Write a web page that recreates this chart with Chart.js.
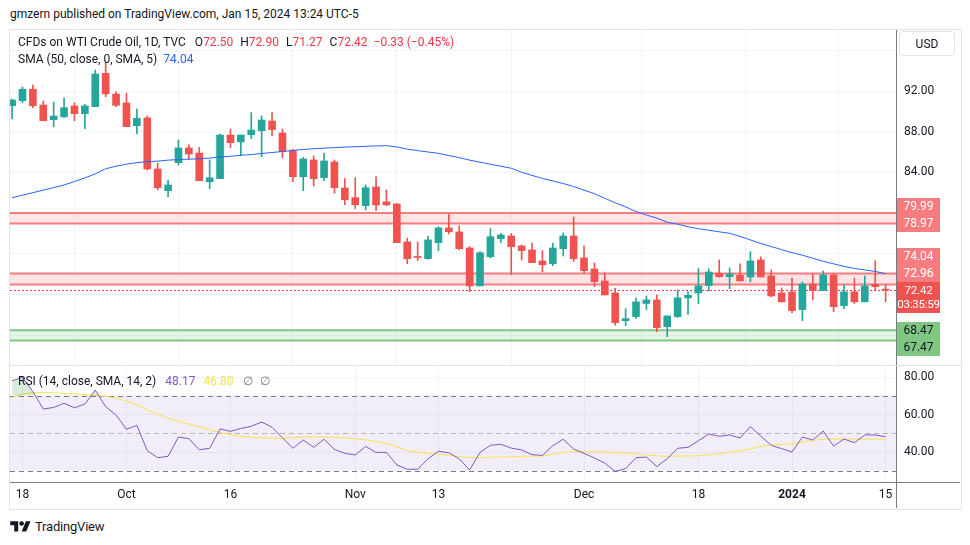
<!DOCTYPE html>
<html>
<head>
<meta charset="utf-8">
<title>CFDs on WTI Crude Oil, 1D</title>
<script src="https://cdn.jsdelivr.net/npm/chart.js@4.4.1/dist/chart.umd.min.js"></script>
<style>
  html, body { margin: 0; padding: 0; background: #fff; }
  body { width: 970px; height: 545px; position: relative; overflow: hidden; font-family: Roboto, "Noto Sans", sans-serif; color: #131722; }
  .abs { position: absolute; white-space: nowrap; }
  #frame { left: 9px; top: 29px; width: 951px; height: 479px; border: 1px solid #e0e3eb; }
  #sep { left: 10px; top: 365px; width: 951px; height: 1px; background: #e0e3eb; }
  canvas { position: absolute; left: 10px; }
  #priceCanvas { top: 30px; }
  #rsiCanvas { top: 366px; }
  #header { left: 10px; top: 6px; font-size: 12px; line-height: 16px; }
  .legend { left: 18px; font-size: 12px; line-height: 16px; color: #131722; }
  .legend .g9 { margin-left: 9px; }
  .legend .g7 { margin-left: 7px; }
  .legend .g6 { margin-left: 6px; }
  .legend .g8 { margin-left: 8px; }
  .red { color: #f23645; }
  #usd { left: 899px; top: 31px; width: 56px; height: 25px; border: 1px solid #e0e3eb; border-radius: 4px; font-size: 12px; line-height: 25px; text-align: center; box-sizing: border-box; }
  .tag { position: absolute; left: 897px; width: 43px; height: 17px; line-height: 17px; font-size: 12px; text-align: center; color: #fff; }
  .tag.zone { background: #f77c80; }
  .tag.green { background: #81c784; color: #131722; }
  .tag.last { background: #ef5350; height: 31px; line-height: 14px; padding-top: 1px; box-sizing: border-box; font-size: 11.5px; letter-spacing: -0.2px; }
  #brand { left: 10px; top: 518px; font-size: 13px; line-height: 18px; display: flex; align-items: center; gap: 4px; letter-spacing: -0.2px; }
</style>
</head>
<body>
<div id="header" class="abs">gmzern published on TradingView.com, Jan 15, 2024 13:24 UTC-5</div>
<div id="frame" class="abs"></div>
<canvas id="priceCanvas" width="950" height="335"></canvas>
<div id="sep" class="abs"></div>
<canvas id="rsiCanvas" width="950" height="142"></canvas>
<div id="legend1" class="abs legend" style="top:34px"></div>
<div id="legend2" class="abs legend" style="top:51px"></div>
<div id="legend3" class="abs legend" style="top:373px"></div>
<div id="usd" class="abs">USD</div>
<div id="tags"></div>
<div id="brand" class="abs">
  <svg width="21" height="16" viewBox="0 0 36 28"><path d="M14 22H7V11H0V4h14v18zM28 22h-8l7.5-18h8L28 22z" fill="#131722"/><circle cx="20" cy="8" r="4" fill="#131722"/></svg>
  <span>TradingView</span>
</div>
<script>
// daily bars, Sep 15 2023 .. Jan 15 2024 (index 0..84)
const opens = [90.55, 91.05, 92.17, 90.62, 89.18, 89.47, 90.53, 89.77, 90.46, 93.74,
  91.70, 90.82, 88.59, 89.35, 84.33, 82.20, 84.95, 86.40, 85.90, 83.08,
  83.38, 87.67, 87.00, 87.70, 88.10, 89.05, 87.87, 86.13, 83.57, 85.22,
  83.47, 85.02, 82.46, 81.51, 80.72, 82.56, 81.09, 80.89, 77.15, 75.70,
  75.51, 77.08, 78.53, 78.14, 76.56, 72.83, 75.70, 77.48, 77.74, 76.76,
  76.37, 75.28, 75.02, 76.49, 77.74, 75.58, 74.50, 73.32, 72.14, 69.41,
  69.81, 71.10, 71.45, 68.82, 69.81, 71.65, 72.14, 72.86, 74.07, 73.74,
  73.87, 73.71, 75.38, 73.81, 72.14, 72.24, 70.50, 73.02, 72.37, 73.91,
  70.89, 72.24, 71.26, 72.99, 72.50];
const highs = [91.21, 92.39, 92.59, 91.02, 90.92, 91.31, 90.85, 90.69, 94.06, 94.78,
  91.93, 91.80, 90.23, 89.54, 84.89, 83.25, 87.18, 86.72, 86.46, 85.22,
  87.77, 88.26, 87.67, 89.87, 89.54, 89.87, 88.26, 86.27, 85.48, 85.61,
  85.87, 85.22, 83.38, 83.47, 82.76, 83.57, 82.27, 80.96, 77.52, 77.15,
  77.74, 78.66, 79.88, 78.73, 76.69, 76.20, 78.46, 78.00, 77.97, 76.86,
  77.05, 76.30, 77.05, 78.04, 79.61, 76.76, 75.09, 74.10, 72.60, 70.59,
  71.65, 71.84, 71.94, 69.88, 72.43, 72.27, 74.53, 74.50, 75.38, 74.60,
  75.00, 76.20, 75.68, 74.40, 72.63, 73.61, 73.22, 74.04, 74.30, 74.04,
  72.92, 73.61, 73.81, 75.31, 72.90];
const lows = [89.25, 90.85, 90.36, 89.08, 88.49, 89.37, 89.08, 88.30, 90.46, 91.44,
  90.46, 88.49, 87.80, 84.23, 82.27, 81.60, 84.72, 85.22, 83.18, 82.40,
  83.38, 86.43, 85.64, 87.31, 85.54, 87.58, 85.44, 83.08, 82.20, 82.66,
  83.18, 81.94, 80.82, 80.43, 80.30, 80.23, 80.72, 77.08, 75.02, 75.33,
  75.45, 76.30, 77.94, 76.39, 72.27, 72.83, 75.58, 77.08, 73.94, 75.38,
  75.12, 74.23, 74.82, 75.77, 75.22, 74.07, 72.76, 71.94, 68.96, 68.92,
  69.61, 70.50, 68.33, 67.84, 69.71, 70.02, 71.06, 72.34, 73.68, 72.56,
  73.32, 73.22, 73.71, 71.74, 71.26, 70.20, 69.41, 71.45, 72.37, 70.30,
  70.60, 71.09, 71.26, 72.43, 71.27];
const closes = [91.11, 92.17, 90.55, 89.08, 89.54, 90.36, 89.77, 90.53, 93.67, 91.73,
  90.59, 88.49, 89.32, 84.33, 82.49, 82.76, 86.40, 85.80, 83.18, 83.47,
  87.67, 86.92, 87.67, 88.16, 89.15, 88.20, 86.03, 83.57, 85.31, 83.38,
  85.12, 82.49, 81.31, 80.82, 82.49, 80.79, 80.79, 77.08, 75.51, 75.63,
  77.35, 78.53, 78.16, 76.49, 72.83, 76.10, 77.67, 77.84, 76.69, 76.30,
  75.12, 74.92, 76.56, 77.74, 75.51, 74.33, 73.25, 71.94, 69.22, 69.61,
  71.26, 71.45, 68.73, 69.88, 71.65, 71.90, 72.83, 74.20, 73.74, 74.00,
  73.32, 75.28, 73.71, 71.84, 71.26, 70.40, 73.02, 72.37, 73.91, 70.79,
  72.24, 71.26, 72.83, 72.75, 72.42];
const sma50 = [81.50, 81.75, 82.00, 82.25, 82.50, 82.75, 83.10, 83.45, 83.85, 84.35,
  84.60, 84.80, 84.95, 85.05, 85.10, 85.20, 85.25, 85.30, 85.33, 85.40,
  85.50, 85.58, 85.67, 85.75, 85.85, 85.95, 86.05, 86.15, 86.25, 86.32,
  86.38, 86.43, 86.48, 86.52, 86.56, 86.60, 86.62, 86.50, 86.28, 86.14,
  86.00, 85.87, 85.65, 85.45, 85.20, 85.00, 84.80, 84.60, 84.40, 84.00,
  83.70, 83.40, 83.15, 82.90, 82.60, 82.25, 81.90, 81.45, 81.00, 80.60,
  80.15, 79.80, 79.50, 79.10, 78.90, 78.65, 78.45, 78.30, 78.15, 78.00,
  77.70, 77.35, 77.00, 76.70, 76.40, 76.10, 75.85, 75.55, 75.25, 75.00,
  74.75, 74.55, 74.40, 74.25, 74.04];
const rsi14 = [78.0, 79.8, 72.2, 62.9, 63.8, 66.0, 63.6, 65.6, 73.1, 64.2,
  59.7, 52.1, 54.2, 40.7, 37.0, 37.7, 48.0, 47.1, 41.2, 42.0,
  52.4, 51.0, 52.6, 53.7, 56.0, 53.2, 47.6, 42.0, 46.4, 42.5,
  46.8, 41.4, 39.3, 38.4, 43.0, 39.8, 39.8, 33.1, 30.8, 30.8,
  36.4, 40.4, 39.6, 36.4, 30.4, 39.8, 43.6, 44.1, 42.1, 41.1,
  38.6, 38.2, 43.4, 46.8, 41.6, 39.3, 36.8, 34.1, 29.7, 31.1,
  37.0, 37.3, 32.2, 36.4, 42.0, 42.5, 46.0, 49.6, 48.4, 49.1,
  47.5, 53.5, 48.5, 43.6, 41.8, 40.0, 48.0, 46.4, 51.2, 43.2,
  46.9, 45.0, 49.1, 49.1, 48.17];
const rsiMa = [69.2, 70.8, 71.7, 71.8, 71.6, 71.3, 71.0, 70.6, 70.2, 69.7,
  68.8, 67.2, 65.0, 62.6, 60.2, 58.0, 56.5, 55.0, 53.4, 51.7,
  50.5, 49.3, 48.3, 47.8, 47.6, 47.4, 47.3, 47.6, 48.0, 48.1,
  47.9, 47.8, 47.5, 47.1, 46.5, 45.6, 44.4, 42.8, 40.8, 40.0,
  39.2, 38.8, 38.2, 37.6, 37.0, 36.9, 37.2, 37.4, 37.5, 37.7,
  37.8, 37.9, 38.8, 39.9, 40.2, 40.2, 40.1, 40.0, 39.8, 39.4,
  38.9, 38.4, 37.9, 37.7, 37.8, 37.9, 38.0, 38.4, 39.0, 39.8,
  40.6, 41.7, 43.0, 43.8, 44.1, 44.3, 45.3, 46.1, 46.8, 46.9,
  46.9, 46.9, 46.9, 46.8, 46.80];

const tickIdx = [1, 11, 21, 33, 41, 55, 66, 75, 84];
const tickText = ['18', 'Oct', '16', 'Nov', '13', 'Dec', '18', '2024', '15'];
const priceTicks = [68, 72, 76, 80, 84, 88, 92, 96];
const priceLabelled = [84, 88, 92];
const rsiTicks = [40, 60, 80];
const rsiLevels = [30, 50, 70];
const zoneRed = [78.97, 79.99];
const zoneMid = [72.96, 74.04];
const zoneGreen = [67.47, 68.47];
const countdown = '03:35:59';

const FONT = 'Roboto, "Noto Sans", sans-serif';
const UP = '#26a69a', DOWN = '#ef5350';
const MA_YELLOW = '#fbe14b';
const last = closes.length - 1;
const lastClose = closes[last];
const candleColors = closes.map((c, i) => c >= opens[i] ? UP : DOWN);

// legends
const chg = closes[last] - closes[last - 1];
const fmt = v => v.toFixed(2).replace('-', '\u2212');
document.getElementById('legend1').innerHTML =
  'CFDs on WTI Crude Oil, 1D, TVC' +
  '<span class="g9">O</span><span class="red">' + opens[last].toFixed(2) + '</span>' +
  '<span class="g7">H</span><span class="red">' + highs[last].toFixed(2) + '</span>' +
  '<span class="g7">L</span><span class="red">' + lows[last].toFixed(2) + '</span>' +
  '<span class="g7">C</span><span class="red">' + closes[last].toFixed(2) + '</span>' +
  '<span class="g6 red">' + fmt(chg) + ' (' + fmt(chg / closes[last - 1] * 100) + '%)</span>';
document.getElementById('legend2').innerHTML =
  'SMA (50, close, 0, SMA, 5)<span class="g6" style="color:#2962ff">' + sma50[last].toFixed(2) + '</span>';
document.getElementById('legend3').innerHTML =
  'RSI (14, close, SMA, 14, 2)<span class="g9" style="color:#7e57c2">' + rsi14[last].toFixed(2) + '</span>' +
  '<span class="g8" style="color:' + MA_YELLOW + '">' + rsiMa[last].toFixed(2) + '</span>' +
  '<span class="g9" style="color:#787b86">\u2205</span><span class="g7" style="color:#787b86">\u2205</span>';

// price tags on the right axis
const tagBox = document.getElementById('tags');
function makeTag(value, cls, html) {
  const el = document.createElement('div');
  el.className = 'tag ' + cls;
  el.innerHTML = html || value.toFixed(2);
  tagBox.appendChild(el);
  return { value, el };
}
const upperTags = [zoneMid[0], zoneMid[1], zoneRed[0], zoneRed[1]].map(v => makeTag(v, 'zone'));
const lowerTags = [zoneGreen[1], zoneGreen[0]].map(v => makeTag(v, 'green'));
const lastTag = makeTag(lastClose, 'last', lastClose.toFixed(2) + '<br>' + countdown);

const tagPlugin = {
  id: 'tags',
  afterDraw(chart) {
    const ys = chart.scales.y;
    const off = chart.canvas.offsetTop;
    const px = v => ys.getPixelForValue(v) + off;
    const h = 17;
    const lastTop = px(lastClose) - h / 2;
    lastTag.el.style.top = lastTop + 'px';
    let limit = lastTop;
    upperTags.forEach(t => {
      const c = Math.min(px(t.value), limit - h / 2);
      t.el.style.top = (c - h / 2) + 'px';
      limit = c - h / 2;
    });
    limit = lastTop + 31;
    lowerTags.forEach(t => {
      const c = Math.max(px(t.value), limit + h / 2);
      t.el.style.top = (c - h / 2) + 'px';
      limit = c + h / 2;
    });
  }
};

const zonePlugin = {
  id: 'zones',
  beforeDatasetsDraw(chart) {
    const { ctx, chartArea: a, scales: { y } } = chart;
    const zones = [
      { range: zoneRed, fill: 'rgba(247,124,128,0.2)', line: '#f77c80' },
      { range: zoneMid, fill: 'rgba(247,124,128,0.2)', line: '#f77c80' },
      { range: zoneGreen, fill: 'rgba(129,199,132,0.2)', line: '#81c784' }
    ];
    ctx.save();
    zones.forEach(z => {
      const t = y.getPixelForValue(z.range[1]);
      const b = y.getPixelForValue(z.range[0]);
      ctx.fillStyle = z.fill;
      ctx.fillRect(a.left, t, a.right - a.left, b - t);
      ctx.strokeStyle = z.line;
      ctx.lineWidth = 2;
      [t, b].forEach(py => {
        ctx.beginPath(); ctx.moveTo(a.left, py); ctx.lineTo(a.right, py); ctx.stroke();
      });
    });
    const ly = Math.round(y.getPixelForValue(lastClose)) + 0.5;
    ctx.strokeStyle = '#f23645';
    ctx.lineWidth = 1;
    ctx.setLineDash([2, 2]);
    ctx.beginPath(); ctx.moveTo(a.left, ly); ctx.lineTo(a.right, ly); ctx.stroke();
    ctx.restore();
  }
};

const rsiPlugin = {
  id: 'rsiBands',
  beforeDatasetsDraw(chart) {
    const { ctx, chartArea: a, scales: { y } } = chart;
    const t = y.getPixelForValue(rsiLevels[2]);
    const b = y.getPixelForValue(rsiLevels[0]);
    ctx.save();
    ctx.fillStyle = 'rgba(126,87,194,0.1)';
    ctx.fillRect(a.left, t, a.right - a.left, b - t);
    ctx.lineWidth = 1;
    ctx.setLineDash([5, 4]);
    rsiLevels.forEach(v => {
      const py = Math.round(y.getPixelForValue(v)) + 0.5;
      ctx.strokeStyle = v === 50 ? 'rgba(120,123,134,0.5)' : '#787b86';
      ctx.beginPath(); ctx.moveTo(a.left, py); ctx.lineTo(a.right, py); ctx.stroke();
    });
    ctx.restore();
  },
  afterDraw(chart) {
    // axis lines run on through the corner below the price scale
    const { ctx, chartArea: a, width, height } = chart;
    ctx.save();
    ctx.strokeStyle = '#787b86';
    ctx.lineWidth = 1;
    ctx.beginPath();
    ctx.moveTo(a.right, a.bottom + 0.5); ctx.lineTo(width, a.bottom + 0.5);
    ctx.moveTo(a.right + 0.5, a.bottom); ctx.lineTo(a.right + 0.5, height);
    ctx.stroke();
    ctx.restore();
  }
};

Chart.defaults.font.family = FONT;
Chart.defaults.font.size = 12;
Chart.defaults.color = '#131722';

// no extra room for half-labels at the ends of the axes
function noPad(s) {
  s.paddingTop = 0; s.paddingBottom = 0; s.paddingLeft = 0; s.paddingRight = 0;
}
const xRange = { min: -0.2, max: 85 };
const commonPlugins = { legend: { display: false }, tooltip: { enabled: false } };

new Chart(document.getElementById('priceCanvas'), {
  type: 'bar',
  data: {
    datasets: [
      {
        type: 'line', label: 'SMA 50', order: 1,
        data: sma50.map((v, i) => ({ x: i, y: v })),
        borderColor: '#2962ff', borderWidth: 1, pointRadius: 0, tension: 0
      },
      {
        label: 'Body', order: 2, grouped: false,
        data: opens.map((o, i) => ({ x: i, y: [o, closes[i]] })),
        backgroundColor: candleColors, barThickness: 7, minBarLength: 1, borderWidth: 0
      },
      {
        label: 'Wick', order: 3, grouped: false,
        data: lows.map((l, i) => ({ x: i, y: [l, highs[i]] })),
        backgroundColor: candleColors, barThickness: 1, borderWidth: 0
      }
    ]
  },
  options: {
    responsive: false, animation: false, events: [],
    layout: { padding: 0 },
    plugins: commonPlugins,
    scales: {
      x: {
        type: 'linear', min: xRange.min, max: xRange.max, offset: false,
        afterBuildTicks: s => { s.ticks = tickIdx.map(v => ({ value: v })); },
        ticks: { display: false },
        grid: { color: '#f0f3fa', drawTicks: false },
        border: { display: false },
        afterFit: s => { s.height = 0; noPad(s); }
      },
      y: {
        position: 'right', min: 65.05, max: 98,
        afterBuildTicks: s => { s.ticks = priceTicks.map(v => ({ value: v })); },
        ticks: {
          padding: 8, color: '#131722',
          callback: v => priceLabelled.includes(v) ? v.toFixed(2) : ''
        },
        grid: { color: '#f0f3fa', drawTicks: false },
        border: { color: '#787b86' },
        afterFit: s => { s.width = 64; noPad(s); }
      }
    }
  },
  plugins: [zonePlugin, tagPlugin]
});

new Chart(document.getElementById('rsiCanvas'), {
  type: 'line',
  data: {
    datasets: [
      {
        label: 'RSI', order: 1,
        data: rsi14.map((v, i) => ({ x: i, y: v })),
        borderColor: '#7e57c2', borderWidth: 1, pointRadius: 0,
        fill: { target: { value: rsiLevels[2] }, above: 'rgba(76,175,80,0.22)', below: 'rgba(0,0,0,0)' }
      },
      {
        label: 'RSI MA', order: 2,
        data: rsiMa.map((v, i) => ({ x: i, y: v })),
        borderColor: MA_YELLOW, borderWidth: 1, pointRadius: 0, fill: false
      }
    ]
  },
  options: {
    responsive: false, animation: false, events: [],
    layout: { padding: 0 },
    plugins: commonPlugins,
    scales: {
      x: {
        type: 'linear', min: xRange.min, max: xRange.max, offset: false,
        afterBuildTicks: s => { s.ticks = tickIdx.map(v => ({ value: v })); },
        ticks: {
          padding: 6, autoSkip: false, maxRotation: 0, color: '#131722',
          font: c => ({ size: 12, weight: c.tick && tickText[tickIdx.indexOf(c.tick.value)] === '2024' ? 'bold' : 'normal' }),
          callback: v => tickText[tickIdx.indexOf(v)]
        },
        grid: { color: '#f0f3fa', drawTicks: false },
        border: { color: '#787b86' },
        afterFit: s => { s.height = 26; noPad(s); }
      },
      y: {
        position: 'right', min: 24, max: 85.9,
        afterBuildTicks: s => { s.ticks = rsiTicks.map(v => ({ value: v })); },
        ticks: { padding: 8, color: '#131722', callback: v => v.toFixed(2) },
        grid: { color: '#f0f3fa', drawTicks: false },
        border: { color: '#787b86' },
        afterFit: s => { s.width = 64; noPad(s); }
      }
    }
  },
  plugins: [rsiPlugin]
});
</script>
</body>
</html>
